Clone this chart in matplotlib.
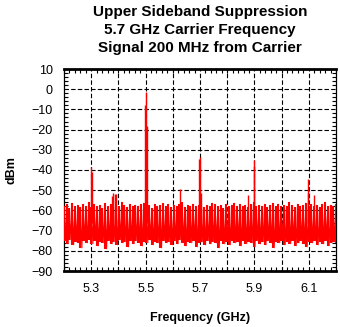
import numpy as np
import matplotlib
matplotlib.use("Agg")
import matplotlib.pyplot as plt
from matplotlib.ticker import MultipleLocator

plt.rcParams['font.family'] = ['Liberation Sans', 'DejaVu Sans']

# sweep settings (GHz)
f_start = 5.2
f_stop = 6.2

# noise floor: top and bottom of each sweep bin (dBm)
noise_top = [-58, -57, -59, -56.5, -58, -57.5, -58.5, -57, -58, -56,
             -58.5, -57, -58, -57.5, -59, -56.5, -58, -57, -58.5, -57.5,
             -58, -56, -57.5, -58.5, -57, -58, -57.5, -58, -57, -56.5,
             -58, -57.5, -59, -57, -58, -57.5, -56.5, -58, -57, -58.5,
             -57.5, -58, -57, -56, -58.5, -57.5, -58, -57, -58, -57.5,
             -57, -58.5, -57.5, -58, -56.5, -57, -58, -57.5, -59, -57,
             -58, -57.5, -56.5, -58, -57, -58, -57.5, -58.5, -57, -56,
             -58, -57.5, -58, -57, -58.5, -57.5, -56.5, -58, -57, -58,
             -57.5, -58, -56, -57.5, -58.5, -57, -58, -57.5, -56.5, -58,
             -57, -58, -57.5, -58.5, -57, -56, -58, -57.5, -58, -57]
noise_bot = [-75, -76.5, -74.5, -77, -75.5, -76, -78.5, -75, -76, -74.5,
             -76.5, -75, -77.5, -75.5, -76, -79, -75, -76.5, -75.5, -77,
             -74.5, -76, -75.5, -78, -75, -76.5, -75, -76, -77.5, -75.5,
             -76, -74.5, -77, -75.5, -76, -78.5, -75, -76, -75.5, -77,
             -75, -76.5, -74.5, -76, -77.5, -75.5, -76, -75, -78, -76,
             -75.5, -77, -75, -76.5, -75.5, -76, -78.5, -75, -76.5, -75.5,
             -77, -75, -76, -75.5, -77.5, -75, -76.5, -75.5, -76, -78,
             -75, -76.5, -75.5, -77, -75, -76, -78.5, -75.5, -76, -75,
             -77, -75.5, -76.5, -75, -77.5, -76, -75, -76.5, -78, -75.5,
             -76, -75, -77, -75.5, -76.5, -75, -77.5, -76, -75.5, -76]

# spurs / carrier products (GHz, dBm)
spur_freq = [5.300, 5.302, 5.376, 5.380, 5.387, 5.391,
             5.499, 5.501, 5.504, 5.628, 5.698, 5.700, 5.703,
             5.876, 5.898, 5.899, 6.097, 6.098, 6.120]
spur_level = [-38.4, -41, -52.9, -51.5, -52, -52,
              -8, -1.2, -18, -49.4, -34.4, -33.8, -51.5,
              -52.4, -35, -38, -51.6, -44.5, -52.4]

xticks = [5.3, 5.5, 5.7, 5.9, 6.1]
xtick_labels = ['5.3', '5.5', '5.7', '5.9', '6.1']
yticks = [10, 0, -10, -20, -30, -40, -50, -60, -70, -80, -90]

fig = plt.figure(figsize=(3.4, 3.27), dpi=100)
ax = fig.add_axes([64/340, 1-271/327, 272/340, 202/327])

# noise band: one bar per sweep bin, plus a zigzag for ragged edges
n = len(noise_top)
f = np.linspace(f_start, f_stop, n)
step = (f_stop - f_start) / (n - 1)
ax.vlines(f, noise_bot, noise_top, color='#ff0000', lw=1.5, zorder=3)
x = np.empty(2*n)
y = np.empty(2*n)
x[0::2] = f
x[1::2] = f + step/2
y[0::2] = noise_top
y[1::2] = noise_bot
ax.plot(x, y, color='#ff0000', lw=0.8, zorder=3)
ax.vlines(spur_freq, -66, spur_level, color='#ff0000', lw=1.0, zorder=3)

ax.set_xlim(f_start, f_stop)
ax.set_ylim(-90, 10)

ax.set_xticks(xticks, xtick_labels)
ax.xaxis.set_minor_locator(MultipleLocator(0.02))
ax.set_yticks(yticks)
ax.yaxis.set_minor_locator(MultipleLocator(2))

grid_x = np.arange(53, 62) / 10
for gx in grid_x:
    ax.axvline(gx, color='black', lw=0.8, ls=(0, (4, 2)), zorder=1)
for gy in yticks[1:-1]:
    ax.axhline(gy, color='black', lw=0.8, ls=(0, (4, 2)), zorder=1)

ax.tick_params(axis='both', which='major', direction='in', length=0,
               labelsize=9, top=True, right=True)
ax.tick_params(axis='x', which='major', pad=9)
ax.tick_params(axis='y', which='major', pad=8)
ax.tick_params(axis='both', which='minor', direction='in', length=3,
               width=0.8, top=True, right=True)

ax.spines['top'].set_linewidth(2)
ax.spines['bottom'].set_linewidth(2)
ax.spines['left'].set_linewidth(0.9)
ax.spines['right'].set_linewidth(0.9)

ax.set_xlabel('Frequency (GHz)', fontsize=9, fontweight='bold', labelpad=12)
ax.set_ylabel('dBm', fontsize=9, fontweight='bold', labelpad=10)

fig.text(200/340, 1-5/327, 'Upper Sideband Suppression\n5.7 GHz Carrier Frequency\nSignal 200 MHz from Carrier',
         ha='center', va='top', fontsize=11, fontweight='bold', linespacing=1.35)

fig.savefig('out.png', dpi=100)
